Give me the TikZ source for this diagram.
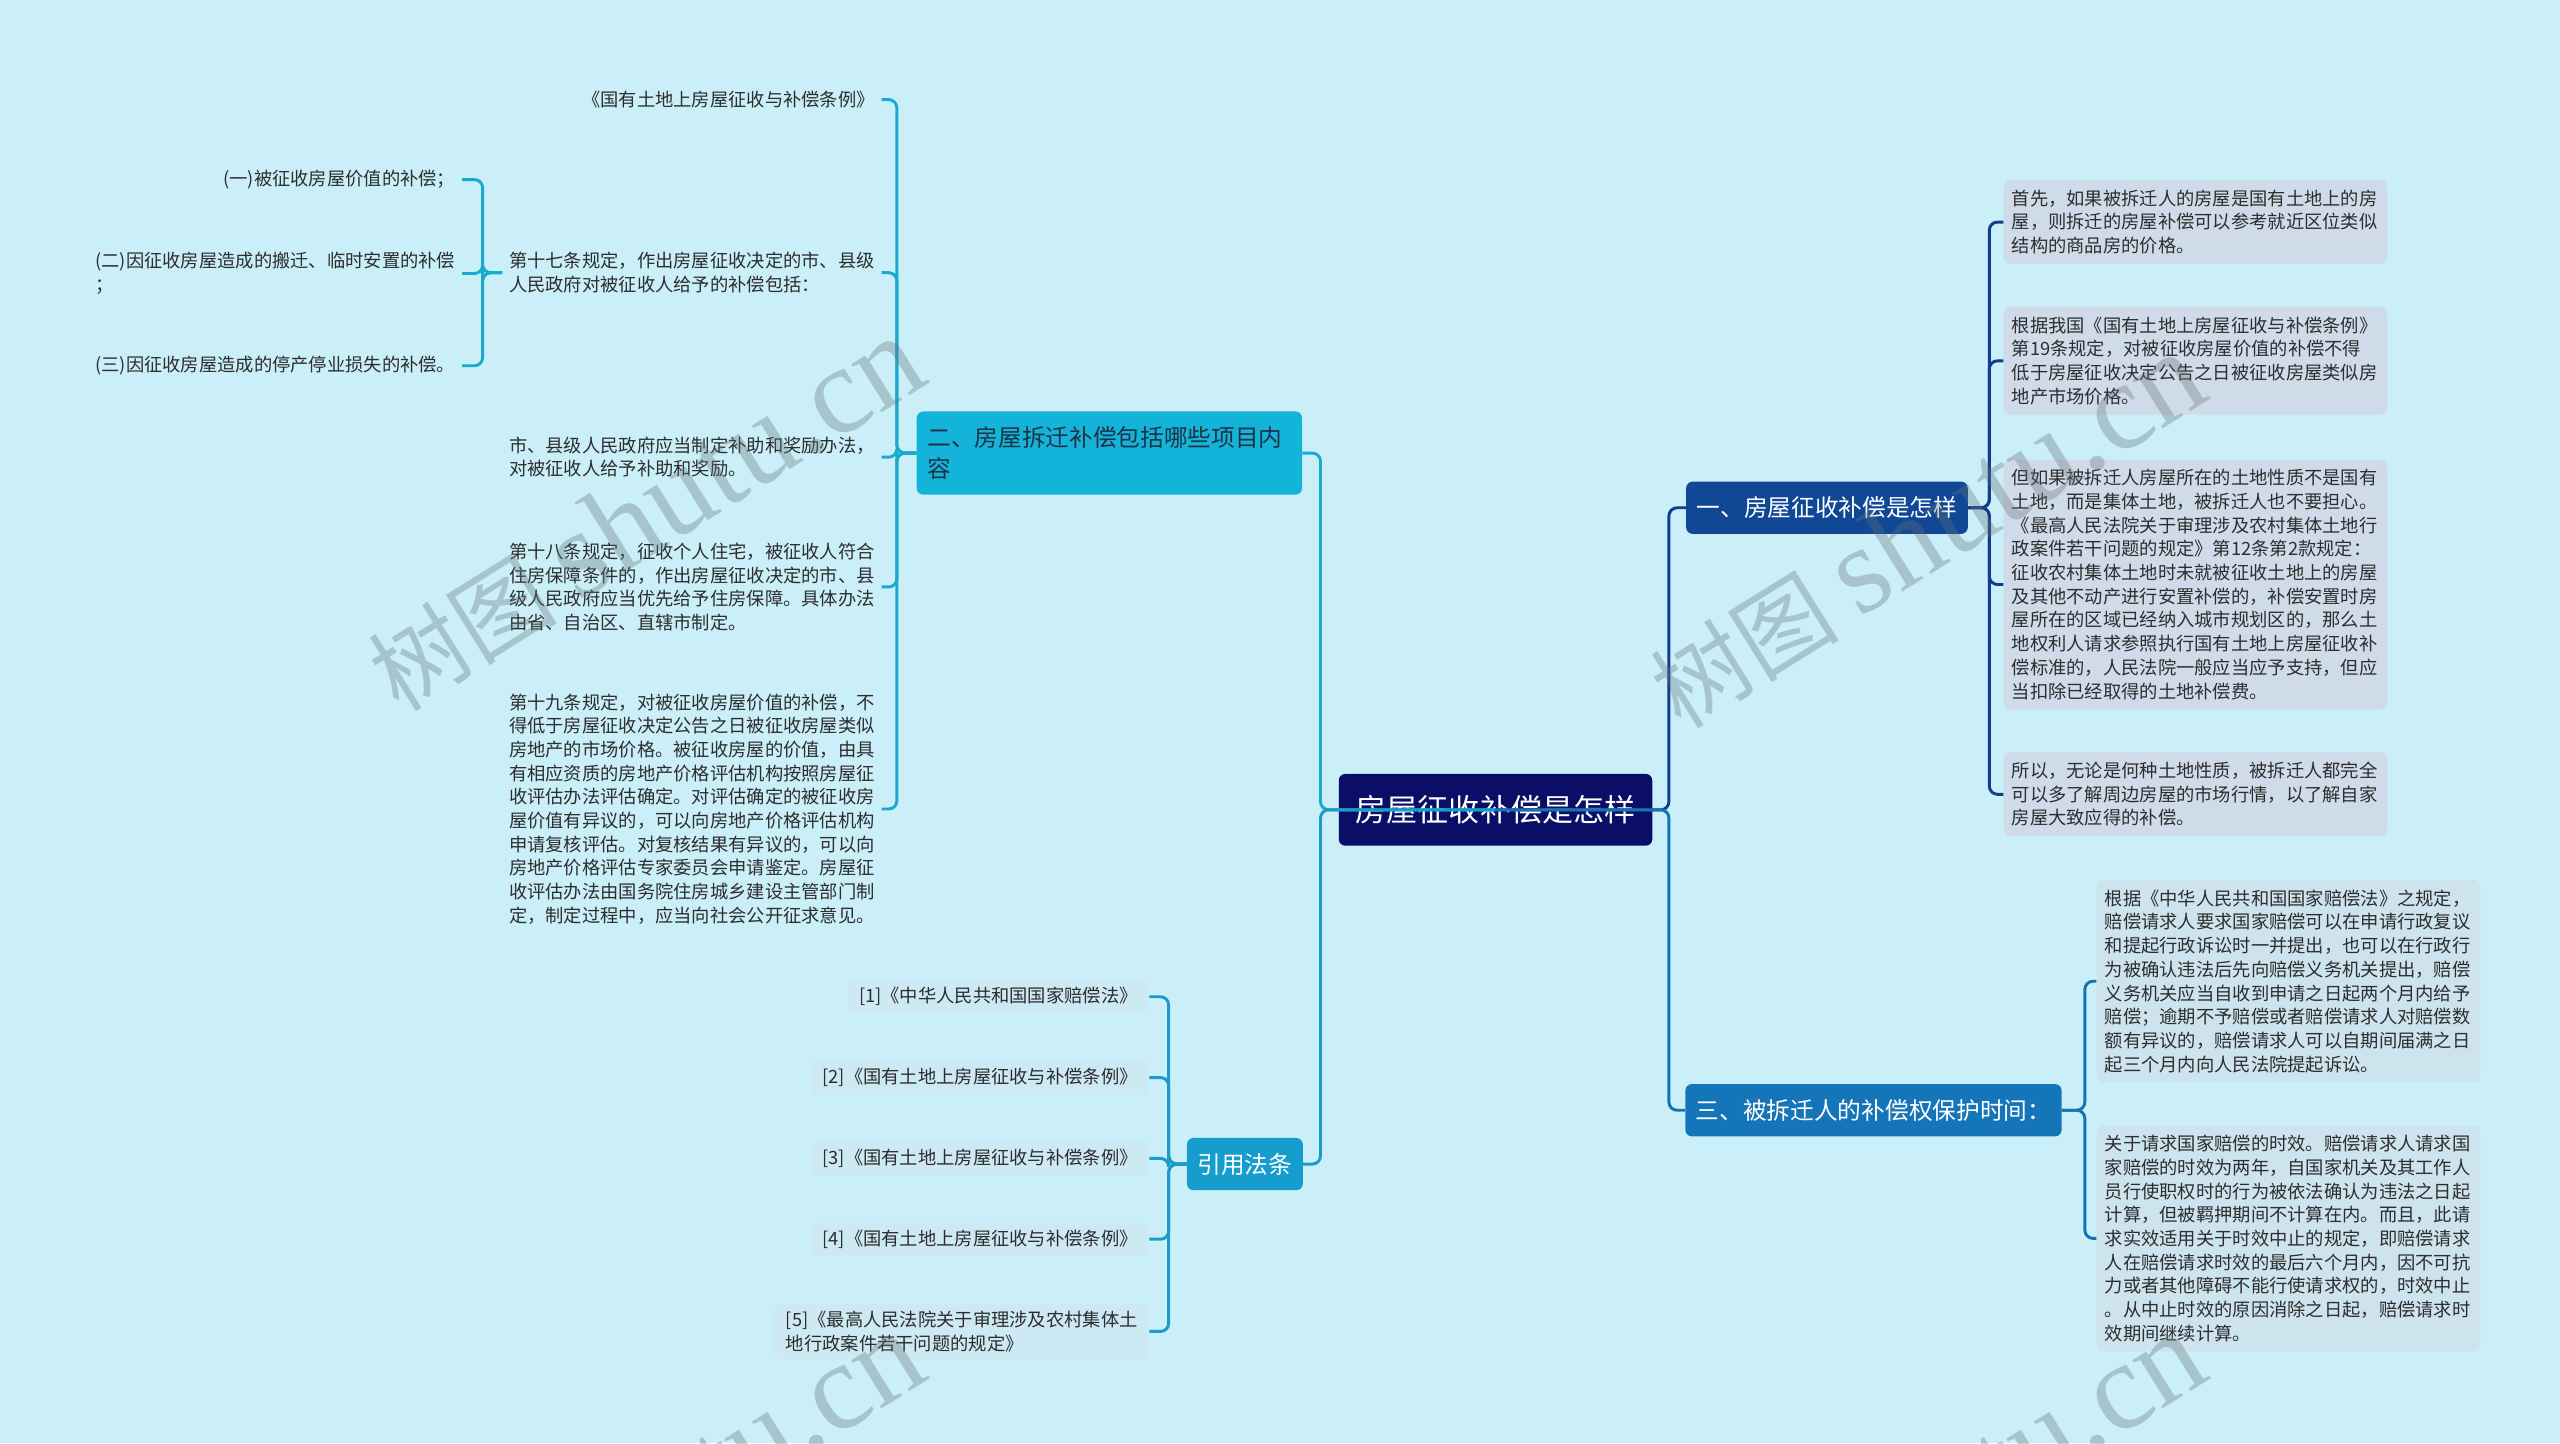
\documentclass[tikz,border=0pt]{standalone}
\usepackage{fontspec}
\setmainfont{Noto Sans CJK SC}
\newfontfamily\wmlatin{Liberation Serif}
\usepackage{tikz}
\definecolor{mapbg}{RGB}{202,239,248}
\definecolor{rootblue}{RGB}{10,14,102}
\definecolor{topiccyan}{RGB}{20,180,218}
\definecolor{topicnavy}{RGB}{16,72,150}
\definecolor{topicblue}{RGB}{20,118,185}
\definecolor{topicsky}{RGB}{22,157,206}
\definecolor{linecyan}{RGB}{26,170,205}
\definecolor{linesky}{RGB}{26,155,202}
\definecolor{linenavy}{RGB}{16,62,140}
\definecolor{lineblue}{RGB}{22,115,178}
\definecolor{notelilac}{RGB}{208,219,234}
\definecolor{notepale}{RGB}{205,228,239}
\definecolor{citepale}{RGB}{205,233,243}
\definecolor{inkgray}{RGB}{45,45,45}
\definecolor{topicink}{RGB}{30,50,70}
\definecolor{wmgray}{RGB}{100,115,120}

\begin{document}
\begin{tikzpicture}[x=1pt,y=-1pt,
  every node/.style={font=\fontsize{11.2pt}{14.5pt}\selectfont,text=inkgray},
  rootbox/.style={fill=rootblue,rounded corners=4pt,text=white,font=\fontsize{19pt}{24pt}\selectfont,inner xsep=10.5pt,minimum height=44pt},
  topicbox/.style={rounded corners=4pt,text=white,font=\fontsize{14.5pt}{19pt}\selectfont,inner xsep=6.5pt,minimum height=32pt},
  leaftext/.style={align=left,inner xsep=4pt,inner ysep=2pt},
  notebox/.style={rounded corners=4pt,align=left,text width=225pt,inner xsep=5pt,inner ysep=6pt},
  citebox/.style={fill=citepale,rounded corners=4pt,align=left,inner xsep=7pt,inner ysep=4.5pt},
  link/.style={line width=1.8pt,rounded corners=5pt},
  wmark/.style={text=wmgray,opacity=0.34,rotate=32,font=\fontsize{58pt}{60pt}\selectfont}]
\fill[mapbg] (0,0) rectangle (1568,884);
\useasboundingbox (0,0) rectangle (1568,884);

\node[rootbox] (ctr) at (916,496) {房屋征收补偿是怎样};
\node[topicbox,fill=topiccyan,text=topicink,align=left,text width=223pt,minimum height=51pt] (n2) at (679.5,277.5) {二、房屋拆迁补偿包括哪些项目内\\容};
\node[topicbox,fill=topicsky] (nref) at (762.5,713) {引用法条};
\node[topicbox,fill=topicnavy] (n1) at (1119,311) {一、房屋征收补偿是怎样};
\node[topicbox,fill=topicblue] (n3) at (1147.5,680) {三、被拆迁人的补偿权保护时间：};

\node[leaftext,anchor=east] (a1) at (540,61) {《国有土地上房屋征收与补偿条例》};
\node[leaftext,anchor=east] (a2) at (540,167) {第十七条规定，作出房屋征收决定的市、县级\\人民政府对被征收人给予的补偿包括：};
\node[leaftext,anchor=east] (a3) at (540,280) {市、县级人民政府应当制定补助和奖励办法，\\对被征收人给予补助和奖励。};
\node[leaftext,anchor=east] (a4) at (540,359.5) {第十八条规定，征收个人住宅，被征收人符合\\住房保障条件的，作出房屋征收决定的市、县\\级人民政府应当优先给予住房保障。具体办法\\由省、自治区、直辖市制定。};
\node[leaftext,anchor=east] (a5) at (540,495.5) {第十九条规定，对被征收房屋价值的补偿，不\\得低于房屋征收决定公告之日被征收房屋类似\\房地产的市场价格。被征收房屋的价值，由具\\有相应资质的房地产价格评估机构按照房屋征\\收评估办法评估确定。对评估确定的被征收房\\屋价值有异议的，可以向房地产价格评估机构\\申请复核评估。对复核结果有异议的，可以向\\房地产价格评估专家委员会申请鉴定。房屋征\\收评估办法由国务院住房城乡建设主管部门制\\定，制定过程中，应当向社会公开征求意见。};

\node[leaftext,anchor=east] (b1) at (283,110) {(一)被征收房屋价值的补偿；};
\node[leaftext,anchor=east] (b2) at (283,167.5) {(二)因征收房屋造成的搬迁、临时安置的补偿\\；};
\node[leaftext,anchor=east] (b3) at (283,224) {(三)因征收房屋造成的停产停业损失的补偿。};

\node[citebox,anchor=east] (r1) at (704,610.5) {[1]《中华人民共和国国家赔偿法》};
\node[citebox,anchor=east] (r2) at (704,660) {[2]《国有土地上房屋征收与补偿条例》};
\node[citebox,anchor=east] (r3) at (704,709.5) {[3]《国有土地上房屋征收与补偿条例》};
\node[citebox,anchor=east] (r4) at (704,759) {[4]《国有土地上房屋征收与补偿条例》};
\node[citebox,anchor=east] (r5) at (704,815.5) {[5]《最高人民法院关于审理涉及农村集体土\\地行政案件若干问题的规定》};

\node[notebox,fill=notelilac,anchor=west] (d1) at (1227,136) {首先，如果被拆迁人的房屋是国有土地上的房\\屋，则拆迁的房屋补偿可以参考就近区位类似\\结构的商品房的价格。};
\node[notebox,fill=notelilac,anchor=west] (d2) at (1227,221) {根据我国《国有土地上房屋征收与补偿条例》\\第19条规定，对被征收房屋价值的补偿不得\\低于房屋征收决定公告之日被征收房屋类似房\\地产市场价格。};
\node[notebox,fill=notelilac,anchor=west] (d3) at (1227,358) {但如果被拆迁人房屋所在的土地性质不是国有\\土地，而是集体土地，被拆迁人也不要担心。\\《最高人民法院关于审理涉及农村集体土地行\\政案件若干问题的规定》第12条第2款规定：\\征收农村集体土地时未就被征收土地上的房屋\\及其他不动产进行安置补偿的，补偿安置时房\\屋所在的区域已经纳入城市规划区的，那么土\\地权利人请求参照执行国有土地上房屋征收补\\偿标准的，人民法院一般应当应予支持，但应\\当扣除已经取得的土地补偿费。};
\node[notebox,fill=notelilac,anchor=west] (d4) at (1227,486.5) {所以，无论是何种土地性质，被拆迁人都完全\\可以多了解周边房屋的市场行情，以了解自家\\房屋大致应得的补偿。};

\node[notebox,fill=notepale,anchor=west] (e1) at (1284,601) {根据《中华人民共和国国家赔偿法》之规定，\\赔偿请求人要求国家赔偿可以在申请行政复议\\和提起行政诉讼时一并提出，也可以在行政行\\为被确认违法后先向赔偿义务机关提出，赔偿\\义务机关应当自收到申请之日起两个月内给予\\赔偿；逾期不予赔偿或者赔偿请求人对赔偿数\\额有异议的，赔偿请求人可以自期间届满之日\\起三个月内向人民法院提起诉讼。};
\node[notebox,fill=notepale,anchor=west] (e2) at (1284,758.5) {关于请求国家赔偿的时效。赔偿请求人请求国\\家赔偿的时效为两年，自国家机关及其工作人\\员行使职权时的行为被依法确认为违法之日起\\计算，但被羁押期间不计算在内。而且，此请\\求实效适用关于时效中止的规定，即赔偿请求\\人在赔偿请求时效的最后六个月内，因不可抗\\力或者其他障碍不能行使请求权的，时效中止\\。从中止时效的原因消除之日起，赔偿请求时\\效期间继续计算。};

\coordinate (jl) at ([xshift=-11pt]ctr.west);
\coordinate (jr) at ([xshift=10pt]ctr.east);
\coordinate (j2) at ([xshift=-12pt]n2.west);
\coordinate (j17) at ([xshift=-12pt]a2.west);
\coordinate (jref) at ([xshift=-11pt]nref.west);
\coordinate (j1) at ([xshift=13pt]n1.east);
\coordinate (j3) at ([xshift=14pt]n3.east);

\draw[link,linecyan] (ctr.center) -- (jl) |- (n2.east);
\draw[link,linesky] (ctr.center) -- (jl) |- (nref.east);
\draw[link,linenavy] (ctr.center) -- (jr) |- (n1.west);
\draw[link,lineblue] (ctr.center) -- (jr) |- (n3.west);

\draw[link,linecyan] (n2.west) -- (j2) |- (a1.east);
\draw[link,linecyan] (n2.west) -- (j2) |- (a2.east);
\draw[link,linecyan] (n2.west) -- (j2) |- (a3.east);
\draw[link,linecyan] (n2.west) -- (j2) |- (a4.east);
\draw[link,linecyan] (n2.west) -- (j2) |- (a5.east);

\draw[link,linecyan] (a2.west) -- (j17) |- (b1.east);
\draw[link,linecyan] (a2.west) -- (j17) |- (b2.east);
\draw[link,linecyan] (a2.west) -- (j17) |- (b3.east);

\draw[link,linesky] (nref.west) -- (jref) |- (r1.east);
\draw[link,linesky] (nref.west) -- (jref) |- (r2.east);
\draw[link,linesky] (nref.west) -- (jref) |- (r3.east);
\draw[link,linesky] (nref.west) -- (jref) |- (r4.east);
\draw[link,linesky] (nref.west) -- (jref) |- (r5.east);

\draw[link,linenavy] (n1.east) -- (j1) |- (d1.west);
\draw[link,linenavy] (n1.east) -- (j1) |- (d2.west);
\draw[link,linenavy] (n1.east) -- (j1) |- (d3.west);
\draw[link,linenavy] (n1.east) -- (j1) |- (d4.west);

\draw[link,lineblue] (n3.east) -- (j3) |- (e1.west);
\draw[link,lineblue] (n3.east) -- (j3) |- (e2.west);

\node[wmark] (wm1) at (395,315) {树图\ {\wmlatin\fontsize{76pt}{80pt}\selectfont shutu.cn}};
\node[wmark] (wm2) at (1180,325) {树图\ {\wmlatin\fontsize{76pt}{80pt}\selectfont shutu.cn}};
\node[wmark] (wm3) at (395,925) {树图\ {\wmlatin\fontsize{76pt}{80pt}\selectfont shutu.cn}};
\node[wmark] (wm4) at (1180,925) {树图\ {\wmlatin\fontsize{76pt}{80pt}\selectfont shutu.cn}};
\end{tikzpicture}
\end{document}
